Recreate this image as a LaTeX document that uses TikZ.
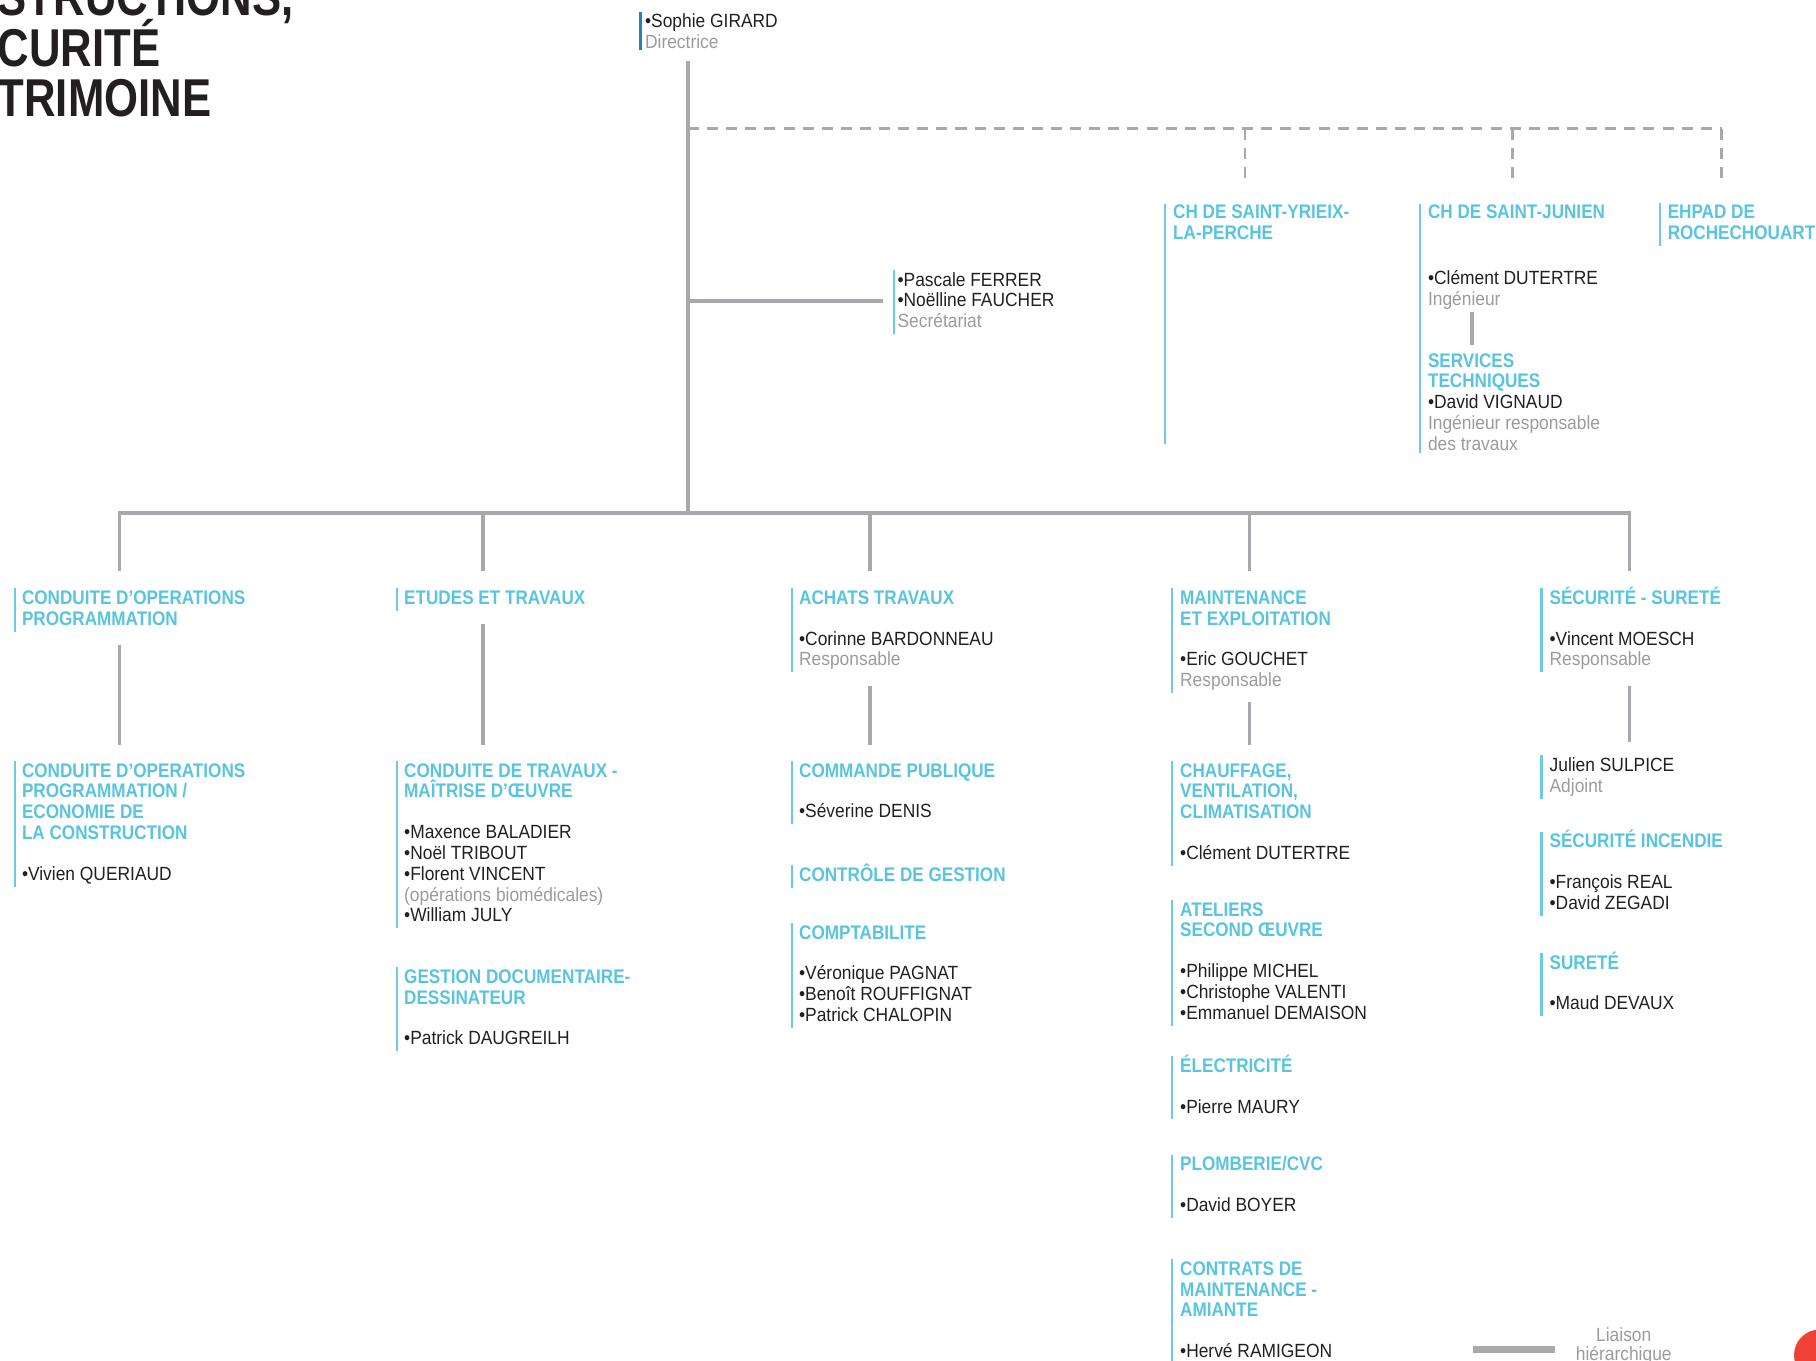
\documentclass[tikz,border=0pt]{standalone}
\usepackage{fontspec}
\setmainfont[FakeStretch=0.91]{Liberation Sans}
\newfontfamily\headfont[FakeStretch=0.87]{Liberation Sans}
\newfontfamily\titlefont[FakeStretch=0.82]{Liberation Sans}
\definecolor{ink}{RGB}{35,31,32}
\definecolor{headc}{RGB}{88,196,222}
\definecolor{barc}{RGB}{107,203,227}
\definecolor{darkbar}{RGB}{32,130,190}
\definecolor{linec}{RGB}{167,169,172}
\definecolor{grayt}{RGB}{155,155,155}
\definecolor{redc}{RGB}{239,65,54}
\newcommand\hd[1]{{\headfont\bfseries\fontsize{17}{18}\selectfont\color{headc}#1}}
\newcommand\gr[1]{{\color{grayt}#1}}
\newcommand\B[1]{\rule{0pt}{16pt}#1\rule[-5.5pt]{0pt}{5.5pt}}
\begin{document}
\begin{tikzpicture}[x=1pt,y=-1pt,
  every node/.style={inner sep=0pt,outer sep=0pt},
  cbar/.style={draw=barc,line width=2pt},
  conn/.style={draw=linec,line width=3pt},
  dashln/.style={draw=linec,line width=2.5pt,dash pattern=on 9.5pt off 7pt},
  txt/.style={anchor=north west,align=left,text=ink,font=\fontsize{16.5}{18}\selectfont},
  blk/.style={txt,append after command={([xshift=-#1,yshift=-2pt]\tikzlastnode.north west) edge[cbar] ([xshift=-#1]\tikzlastnode.south west)}},
  blk/.default=6pt,
  dblk/.style={txt,append after command={([xshift=-#1,yshift=-2pt]\tikzlastnode.north west) edge[draw=darkbar,line width=2pt] ([xshift=-#1,yshift=4pt]\tikzlastnode.south west)}},
  ttl/.style={anchor=base west,text=ink,font=\titlefont\bfseries\fontsize{46}{44}\selectfont}
]
\useasboundingbox (0,0) rectangle (1568,1175);

% title (cut off at the page edge)
\node[ttl] (t1) at (-2,13) {STRUCTIONS,};
\node[ttl] (t2) at (-2,57) {CURITÉ};
\node[ttl] (t3) at (-2,101) {TRIMOINE};

% director
\node[dblk=4pt] (sophie) at (557,8) {\B{•Sophie GIRARD\\\gr{Directrice}}};

% junction coordinates
\coordinate (tx) at (594,0);
\coordinate (hub) at (594,443);
\coordinate (dj) at (594,111);
\coordinate (dr) at (1487,111);
\coordinate (d1) at (1075,111);
\coordinate (d2) at (1306,111);
\coordinate (d3) at (1486,111);
\coordinate (hl) at (102,443);
\coordinate (hr) at (1408,443);
\coordinate (k1) at (103,443);
\coordinate (k2) at (417,443);
\coordinate (k3) at (751,443);
\coordinate (k4) at (1079,443);
\coordinate (k5) at (1407,443);
\coordinate (jx) at (1271,0);

% secretariat
\node[blk=3pt] (sec) at (775,231) {\B{•Pascale FERRER\\•Noëlline FAUCHER\\\gr{Secrétariat}}};

% attached establishments
\node[txt] (yr) at (1013,173) {\B{\hd{CH DE SAINT-YRIEIX-}\\\hd{LA-PERCHE}}};
\node[txt] (jh) at (1233,173) {\B{\hd{CH DE SAINT-JUNIEN}}};
\node[txt] (jc) at (1233,230) {\B{•Clément DUTERTRE\\\gr{Ingénieur}}};
\node[txt] (js) at (1233,301) {\B{\hd{SERVICES}\\\hd{TECHNIQUES}\\•David VIGNAUD\\\gr{Ingénieur responsable}\\\gr{des travaux}}};
\node[blk=7pt] (eh) at (1440,173) {\B{\hd{EHPAD DE}\\\hd{ROCHECHOUART}}};
\draw[cbar] ([xshift=-7pt,yshift=-3pt]yr.north west) -- ++(0,207);
\draw[cbar] ([xshift=-7pt,yshift=-3pt]jh.north west) -- ++(0,215);

% column 1
\node[blk] (a1) at (19,506) {\B{\hd{CONDUITE D’OPERATIONS}\\\hd{PROGRAMMATION}}};
\node[blk] (a2) at (19,655) {\B{\hd{CONDUITE D’OPERATIONS}\\\hd{PROGRAMMATION /}\\\hd{ECONOMIE DE}\\\hd{LA CONSTRUCTION}\\[17pt]•Vivien QUERIAUD}};

% column 2
\node[blk] (b1) at (349,506) {\B{\hd{ETUDES ET TRAVAUX}}};
\node[blk] (b2) at (349,655) {\B{\hd{CONDUITE DE TRAVAUX -}\\\hd{MAÎTRISE D’ŒUVRE}\\[17pt]•Maxence BALADIER\\•Noël TRIBOUT\\•Florent VINCENT\\\gr{(opérations biomédicales)}\\•William JULY}};
\node[blk] (b3) at (349,833) {\B{\hd{GESTION DOCUMENTAIRE-}\\\hd{DESSINATEUR}\\[17pt]•Patrick DAUGREILH}};

% column 3
\node[blk] (c1) at (690,506) {\B{\hd{ACHATS TRAVAUX}\\[17pt]•Corinne BARDONNEAU\\\gr{Responsable}}};
\node[blk] (c2) at (690,655) {\B{\hd{COMMANDE PUBLIQUE}\\[17pt]•Séverine DENIS}};
\node[blk] (c3) at (690,745) {\B{\hd{CONTRÔLE DE GESTION}}};
\node[blk] (c4) at (690,795) {\B{\hd{COMPTABILITE}\\[17pt]•Véronique PAGNAT\\•Benoît ROUFFIGNAT\\•Patrick CHALOPIN}};

% column 4
\node[blk=7pt] (e1) at (1019,506) {\B{\hd{MAINTENANCE}\\\hd{ET EXPLOITATION}\\[17pt]•Eric GOUCHET\\\gr{Responsable}}};
\node[blk=7pt] (e2) at (1019,655) {\B{\hd{CHAUFFAGE,}\\\hd{VENTILATION,}\\\hd{CLIMATISATION}\\[17pt]•Clément DUTERTRE}};
\node[blk=7pt] (e3) at (1019,775) {\B{\hd{ATELIERS}\\\hd{SECOND ŒUVRE}\\[17pt]•Philippe MICHEL\\•Christophe VALENTI\\•Emmanuel DEMAISON}};
\node[blk=7pt] (e4) at (1019,910) {\B{\hd{ÉLECTRICITÉ}\\[17pt]•Pierre MAURY}};
\node[blk=7pt] (e5) at (1019,995) {\B{\hd{PLOMBERIE/CVC}\\[17pt]•David BOYER}};
\node[blk=7pt] (e6) at (1019,1085) {\B{\hd{CONTRATS DE}\\\hd{MAINTENANCE -}\\\hd{AMIANTE}\\[17pt]•Hervé RAMIGEON}};

% column 5
\node[blk=7pt] (f1) at (1338,506) {\B{\hd{SÉCURITÉ - SURETÉ}\\[17pt]•Vincent MOESCH\\\gr{Responsable}}};
\node[blk=7pt] (f2) at (1338,650) {\B{Julien SULPICE\\\gr{Adjoint}}};
\node[blk=7pt] (f3) at (1338,716) {\B{\hd{SÉCURITÉ INCENDIE}\\[17pt]•François REAL\\•David ZEGADI}};
\node[blk=7pt] (f4) at (1338,821) {\B{\hd{SURETÉ}\\[17pt]•Maud DEVAUX}};

% hierarchy lines
\draw[conn,shorten <=5.5pt] (sophie.south -| tx) -- (hub);
\draw[conn,shorten >=13pt] (sec.west -| tx) -- (sec.west);
\draw[dashln] (dj) -- (dr);
\draw[dashln,shorten >=18pt] (d1) -- (d1 |- yr.north);
\draw[dashln,shorten >=18pt] (d2) -- (d2 |- jh.north);
\draw[dashln,shorten >=18pt] (d3) -- (d3 |- eh.north);
\draw[conn] (jc.south -| jx) -- ([yshift=3pt]js.north -| jx);
\draw[draw=linec,line width=3.5pt] (hl) -- (hr);
\draw[conn,shorten >=13pt] (k1) -- (k1 |- a1.north);
\draw[conn,shorten >=13pt] (k2) -- (k2 |- b1.north);
\draw[conn,shorten >=13pt] (k3) -- (k3 |- c1.north);
\draw[conn,shorten >=13pt] (k4) -- (k4 |- e1.north);
\draw[conn,shorten >=13pt] (k5) -- (k5 |- f1.north);
\draw[conn,shorten <=11pt,shorten >=12pt] (a1.south -| k1) -- (a2.north -| k1);
\draw[conn,shorten <=11pt,shorten >=12pt] (b1.south -| k2) -- (b2.north -| k2);
\draw[conn,shorten <=12pt,shorten >=12pt] (c1.south -| k3) -- (c2.north -| k3);
\draw[conn,shorten <=8pt,shorten >=12pt] (e1.south -| k4) -- (e2.north -| k4);
\draw[conn,shorten <=12pt,shorten >=9pt] (f1.south -| k5) -- (f2.north -| k5);

% legend
\coordinate (lg1) at (1272,1165);
\coordinate (lg2) at (1343,1165);
\draw[draw=linec,line width=6pt] (lg1) -- (lg2);
\node[anchor=north,align=center,text=grayt,font=\fontsize{16.5}{16.5}\selectfont] (lgt) at (1402,1142) {\rule{0pt}{16pt}Liaison\\hiérarchique};
\fill[redc] (1571,1170) circle[radius=22pt];
\end{tikzpicture}
\end{document}
